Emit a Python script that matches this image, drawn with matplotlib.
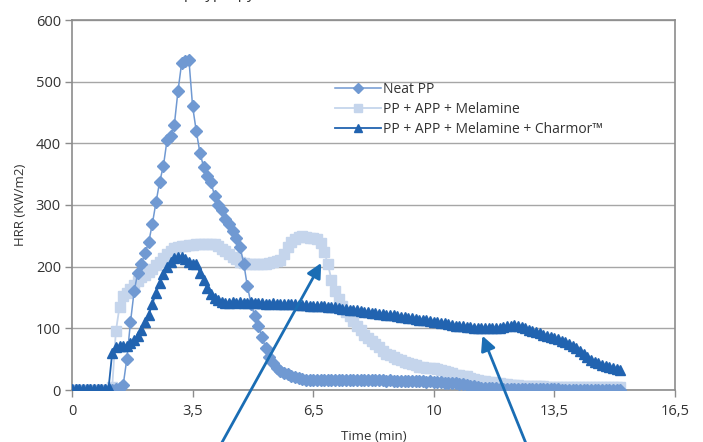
import numpy as np
import matplotlib
matplotlib.use("Agg")
import matplotlib.pyplot as plt

plt.rcParams['font.family'] = ['Open Sans', 'DejaVu Sans']

# sampling grid (min) of the measurements, 0.1 min step
time_min = np.round(np.arange(0, 15.05, 0.1), 1)

neat_pp = [
    0, 0, 0, 0, 0, 0, 0, 0, 0, 0,
    0, 0, 1, 3, 8, 50, 110, 160, 190, 205,
    222, 240, 270, 305, 338, 363, 405, 412, 430, 485,
    530, 533, 535, 460, 420, 385, 362, 347, 338, 315,
    300, 292, 278, 270, 258, 246, 232, 205, 168, 140,
    120, 103, 86, 68, 54, 43, 36, 31, 28, 26,
    23, 21, 19, 18, 17, 16, 16, 16, 16, 17,
    17, 17, 16, 16, 17, 17, 16, 16, 16, 16,
    16, 16, 17, 16, 16, 16, 15, 16, 15, 15,
    15, 15, 14, 15, 14, 14, 14, 13, 14, 13,
    13, 13, 12, 12, 12, 11, 10, 9, 8, 7,
    6, 5, 4, 4, 3, 3, 3, 2, 2, 2,
    2, 2, 2, 1, 1, 1, 1, 1, 1, 1,
    1, 1, 1, 1, 0, 0, 0, 0, 0, 0,
    0, 0, 0, 0, 0, 0, 0, 0, 0, 0,
    0,
]

pp_app_mel = [
    0, 0, 0, 0, 0, 0, 0, 0, 0, 0,
    0, 5, 95, 135, 152, 158, 164, 170, 177, 183,
    187, 191, 196, 202, 207, 214, 221, 226, 230, 232,
    233, 234, 235, 235, 236, 236, 236, 236, 237, 237,
    234, 229, 225, 220, 216, 212, 208, 206, 205, 204,
    205, 205, 204, 205, 206, 207, 209, 211, 220, 232,
    240, 245, 248, 249, 248, 247, 247, 245, 238, 224,
    205, 178, 160, 148, 137, 127, 120, 112, 104, 97,
    90, 85, 80, 75, 70, 64, 59, 56, 53, 50,
    48, 46, 44, 42, 40, 38, 37, 36, 35, 35,
    34, 33, 31, 29, 27, 25, 24, 23, 22, 20,
    18, 16, 15, 14, 13, 13, 12, 11, 10, 9,
    8, 8, 8, 7, 7, 7, 6, 6, 6, 6,
    5, 5, 5, 5, 5, 5, 5, 5, 5, 5,
    5, 5, 5, 5, 5, 5, 5, 5, 5, 5,
    5,
]

pp_app_mel_charmor = [
    2, 2, 2, 2, 2, 2, 2, 2, 2, 2,
    3, 60, 70, 71, 71, 72, 76, 81, 88, 97,
    110, 122, 140, 158, 174, 188, 200, 208, 214, 216,
    215, 212, 207, 204, 205, 190, 178, 165, 156, 150,
    146, 143, 141, 141, 142, 141, 142, 141, 141, 142,
    141, 141, 141, 140, 140, 141, 140, 140, 139, 139,
    139, 139, 138, 138, 138, 137, 137, 137, 136, 136,
    135, 135, 134, 133, 132, 131, 130, 130, 129, 128,
    127, 126, 125, 125, 124, 123, 122, 122, 121, 120,
    119, 118, 117, 116, 115, 114, 114, 113, 112, 111,
    110, 109, 108, 107, 105, 104, 103, 103, 102, 102,
    101, 101, 100, 100, 100, 100, 101, 101, 102, 103,
    104, 105, 104, 102, 100, 98, 96, 94, 92, 90,
    88, 86, 84, 82, 80, 78, 75, 72, 68, 63,
    58, 53, 49, 46, 43, 41, 39, 38, 36, 34,
    32,
]

series_labels = ["Neat PP", "PP + APP + Melamine", "PP + APP + Melamine + Charmor\u2122"]
x_tick_labels = ["0", "3,5", "6,5", "10", "13,5", "16,5"]
y_ticks = [0, 100, 200, 300, 400, 500, 600]
arrow_targets = [(6.82, 206), (11.23, 88)]   # (time, HRR) pointed at by arrows
title_text = "polypropylene"

W, H = 703, 442
fig = plt.figure(figsize=(W / 100, H / 100), dpi=100)
ax = fig.add_axes([72 / W, 1 - 390 / H, (675 - 72) / W, (390 - 20) / H])

c_neat = '#7099d2'
c_mel = '#c5d5ec'
c_char = '#2163b0'

ax.plot(time_min, neat_pp, color=c_neat, lw=1.1, marker='D', ms=6.0,
        mec=c_neat, mfc=c_neat, label=series_labels[0], zorder=3)
ax.plot(time_min, pp_app_mel, color=c_mel, lw=1.3, marker='s', ms=7.2,
        mec=c_mel, mfc=c_mel, label=series_labels[1], zorder=2)
ax.plot(time_min, pp_app_mel_charmor, color=c_char, lw=1.3, marker='^', ms=7.2,
        mec=c_char, mfc=c_char, label=series_labels[2], zorder=4)

ax.set_xlim(0, 16.5)
ax.set_ylim(0, 600)
ax.set_xticks(np.linspace(0, 16.5, len(x_tick_labels)))
ax.set_xticklabels(x_tick_labels)
ax.set_yticks(y_ticks)
ax.yaxis.grid(True, color='#a6a6a6', lw=1.0)
ax.set_axisbelow(True)
for s in ax.spines.values():
    s.set_color('#8c8c8c')
    s.set_linewidth(1.2)
ax.tick_params(axis='both', colors='#8c8c8c', labelcolor='#333333',
               labelsize=10.5, length=5, width=1)
ax.tick_params(axis='x', pad=5)
ax.tick_params(axis='y', pad=3)

ax.set_xlabel("Time (min)", fontsize=9.5, color='#333333', labelpad=8)
ax.set_ylabel("HRR (KW/m2)", fontsize=9.5, color='#333333', labelpad=6)

leg = ax.legend(loc='upper left', bbox_to_anchor=((335 - 72) / 603, (390 - 82) / 370),
                frameon=False, fontsize=10, numpoints=1, handlelength=3.3,
                handletextpad=0.15, labelspacing=0.35, borderpad=0, borderaxespad=0,
                markerscale=0.8)
for t in leg.get_texts():
    t.set_color('#333333')

arrow_col = '#1a6db4'
tails = [(220, -4), (527, -4)]
for (tx, ty), tail in zip(arrow_targets, tails):
    ax.annotate('', xy=(tx, ty), xycoords='data', xytext=tail, textcoords='figure pixels',
                arrowprops=dict(arrowstyle='-|>', color=arrow_col, lw=2.0,
                                mutation_scale=22, shrinkA=0, shrinkB=0),
                annotation_clip=False, zorder=6)

fig.text(184 / W, 1.004, title_text, fontsize=11, color='#333333',
         ha='left', va='baseline')

fig.savefig("out.png", dpi=100)
